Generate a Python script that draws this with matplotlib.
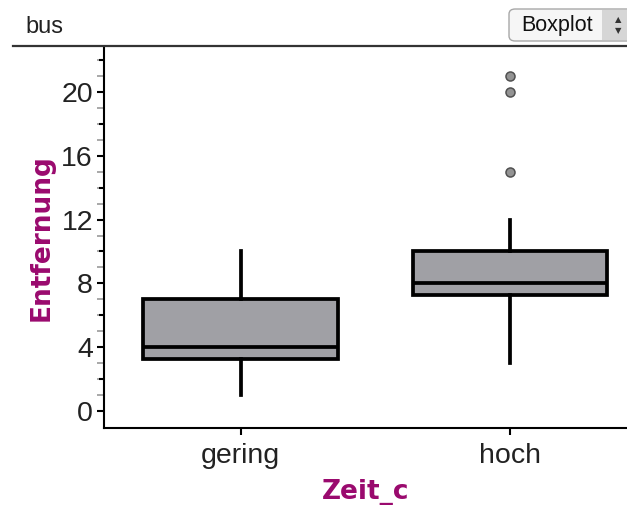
import matplotlib
matplotlib.use('Agg')
from matplotlib import pyplot as plt
from matplotlib.patches import FancyBboxPatch, Rectangle
from matplotlib.lines import Line2D

# box statistics
categories = ['gering', 'hoch']
medians = [4, 8]
q1 = [3.25, 7.25]
q3 = [7, 10]
whisker_low = [1, 3]
whisker_high = [10, 12]
outliers = [[], [15, 20, 21]]

PURPLE = '#9a0a6e'
BOXGRAY = '#a0a0a5'

W, H = 627, 508
XLIM = (-0.5065, 1.434)
fig = plt.figure(figsize=(W / 100, H / 100), dpi=100)
ax = fig.add_axes([104 / W, 1 - 428 / H, 523 / W, (428 - 47) / H])

stats = []
for i, name in enumerate(categories):
    stats.append(dict(label=name, med=medians[i], q1=q1[i], q3=q3[i],
                      whislo=whisker_low[i], whishi=whisker_high[i],
                      fliers=outliers[i]))

ax.bxp(stats, positions=[0, 1], widths=0.72, patch_artist=True,
       showcaps=False,
       boxprops=dict(facecolor=BOXGRAY, edgecolor='black', linewidth=2.7),
       medianprops=dict(color='black', linewidth=2.7),
       whiskerprops=dict(color='black', linewidth=2.7),
       flierprops=dict(marker='o', markersize=6.5, markerfacecolor='#939393',
                       markeredgecolor='#505050', markeredgewidth=1.1))

ax.set_xlim(*XLIM)
ax.set_ylim(-1.066, 22.82)

ax.spines['top'].set_visible(False)
ax.spines['right'].set_visible(False)
ax.spines['left'].set_linewidth(1.5)
ax.spines['bottom'].set_linewidth(1.5)

tick_font = dict(family='Liberation Sans', size=20.5, color='#222222')
ax.set_yticks(range(0, 21, 4))
ax.set_yticklabels([str(v) for v in range(0, 21, 4)], **tick_font)
ax.set_yticks(range(0, 23), minor=True)
ax.tick_params(axis='y', which='major', length=5, width=1.5, pad=3)
ax.tick_params(axis='y', which='minor', length=5, width=1.2, color='#999999')
ax.set_xticks([0, 1])
ax.set_xticklabels(categories, **tick_font)
ax.tick_params(axis='x', length=5, width=1.5, pad=6)

# even integers without a label still get a black tick, odd ones stay gray
for v in range(2, 23, 4):
    ax.plot([XLIM[0] - 5 / 269.5, XLIM[0]], [v, v], color='black', lw=1.5,
            clip_on=False, solid_capstyle='butt')

ax.set_xlabel('Zeit_c', family='DejaVu Sans', fontweight='bold', size=19,
              color=PURPLE, labelpad=7)
ax.set_ylabel('Entfernung', family='DejaVu Sans', fontweight='bold', size=19,
              color=PURPLE, labelpad=5)

# header: title, separator line, dropdown button
fig.text(25 / W, 1 - 27 / H, 'bus', family='Liberation Sans', size=17,
         color='#222222', va='center', ha='left')
fig.add_artist(Line2D([13 / W, 1], [1 - 46 / H, 1 - 46 / H], color='#333333',
                      lw=1.6, transform=fig.transFigure))
btn = FancyBboxPatch((509 / W, 1 - 41 / H), 130 / W, 32 / H,
                     boxstyle='round,pad=0,rounding_size=0.01',
                     facecolor='#f6f6f6', edgecolor='#a8a8a8', lw=1.0,
                     transform=fig.transFigure)
fig.add_artist(btn)
fig.add_artist(Rectangle((602 / W, 1 - 40 / H), 25 / W, 30 / H,
                         facecolor='#d6d6d6', edgecolor='none',
                         transform=fig.transFigure))
fig.text(521 / W, 1 - 25 / H, 'Boxplot', family='Liberation Sans', size=15.5,
         color='#111111', va='center', ha='left')
fig.text(618 / W, 1 - 20 / H, '\u25b2', family='DejaVu Sans', size=6,
         color='#333333', va='center', ha='center')
fig.text(618 / W, 1 - 31 / H, '\u25bc', family='DejaVu Sans', size=6,
         color='#333333', va='center', ha='center')

fig.savefig('out.png', dpi=100)
